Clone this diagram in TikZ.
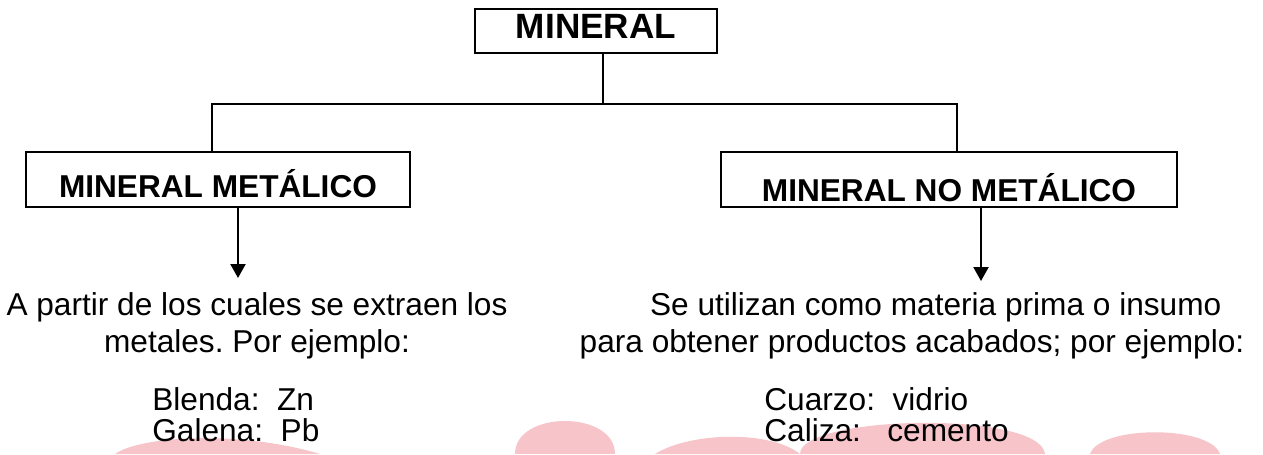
\documentclass[tikz,border=0pt]{standalone}
\usepackage{fontspec}
\setmainfont{Liberation Sans}
\usetikzlibrary{arrows.meta}
\definecolor{marca}{RGB}{247,196,202}
\frenchspacing

\begin{document}
\begin{tikzpicture}[
  x=0.02cm, y=-0.02cm,
  linea/.style={line width=1.2pt},
  caja/.style={draw, line width=1.2pt, inner sep=0pt, align=center},
  tit/.style={caja, font=\fontsize{20}{24}\selectfont\bfseries, minimum width=4.84cm, text height=0.58cm, text depth=0.30cm},
  tipo/.style={caja, font=\fontsize{18}{22}\selectfont\bfseries, text height=0.90cm, text depth=0.20cm},
  texto/.style={inner sep=0pt, align=center, font=\fontsize{18}{21}\selectfont},
  ejem/.style={inner sep=0pt, align=left, font=\fontsize{18}{17.6}\selectfont},
  flecha/.style={line width=1.2pt, -{Triangle[length=0.28cm, width=0.30cm]}}
]
\useasboundingbox (0,0) rectangle (1263,454);
\fill[white] (0,0) rectangle (1263,454);
% marca de agua
\fill[marca] (115,454) .. controls (140,436) and (240,430) .. (320,454) -- cycle;
\fill[marca] (515,454) .. controls (515,410) and (615,410) .. (615,454) -- cycle;
\fill[marca] (655,454) .. controls (690,432) and (770,430) .. (800,454) -- cycle;
\fill[marca] (800,454) .. controls (800,415) and (1040,410) .. (1045,454) -- cycle;
\fill[marca] (1090,454) .. controls (1100,425) and (1210,425) .. (1220,454) -- cycle;

\node[tit] (mineral) at (596,31) {MINERAL};
\node[tipo, minimum width=7.68cm] (metalico) at (218,179.5) {MINERAL METÁLICO};
\node[tipo, minimum width=9.12cm, text height=0.98cm, text depth=0.12cm] (nometalico) at (949,179.5) {MINERAL NO METÁLICO};

\coordinate (ramal) at (603,104);
\coordinate (izq) at (212,104);
\coordinate (der) at (957,104);
\draw[linea] (mineral.south -| ramal) -- (ramal);
\draw[linea] (metalico.north -| izq) |- (der) -- (nometalico.north -| der);

\coordinate (pi) at (238,278);
\coordinate (pd) at (981,281);
\draw[flecha] (metalico.south -| pi) -- (pi);
\draw[flecha] (nometalico.south -| pd) -- (pd);

\node[texto, anchor=north] (usoi) at (257,292) {A partir de los cuales se extraen los\\metales. Por ejemplo:};
\node[texto, anchor=north] (usod) at (912,292) {\hspace*{1.5em}Se utilizan como materia prima o insumo\\para obtener productos acabados; por ejemplo:};

\node[ejem, anchor=north west] (eji) at (152,387) {Blenda:~~Zn\\Galena:~~Pb};
\node[ejem, anchor=north west] (ejd) at (764,387) {Cuarzo:~~vidrio\\Caliza:~~~cemento};
\end{tikzpicture}
\end{document}
